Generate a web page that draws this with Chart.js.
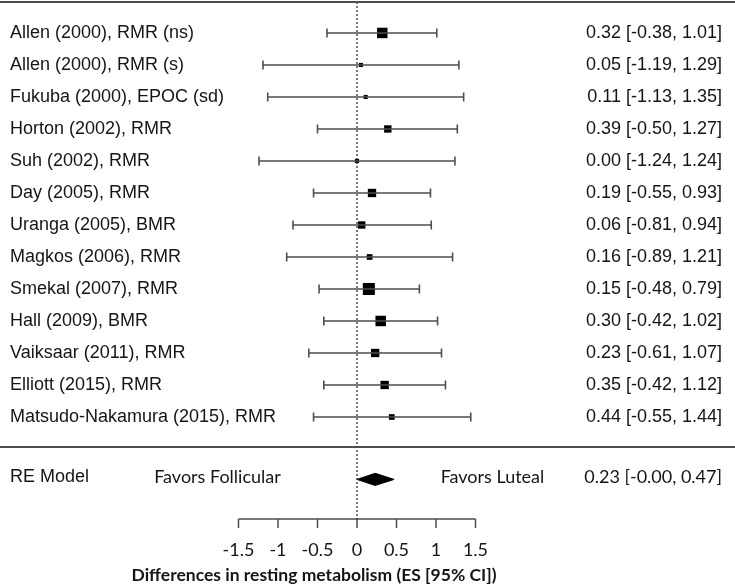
<!DOCTYPE html>
<html>
<head>
<meta charset="utf-8">
<script src="https://cdn.jsdelivr.net/npm/chart.js@4/dist/chart.umd.min.js"></script>
<style>
  html, body { margin: 0; padding: 0; background: #ffffff; }
  #wrap { width: 735px; height: 587px; }
</style>
</head>
<body>
<div id="wrap"><canvas id="c" width="735" height="587"></canvas></div>
<script>
// ---- Data ----
const studies = [
  "Allen (2000), RMR (ns)",
  "Allen (2000), RMR (s)",
  "Fukuba (2000), EPOC (sd)",
  "Horton (2002), RMR",
  "Suh (2002), RMR",
  "Day (2005), RMR",
  "Uranga (2005), BMR",
  "Magkos (2006), RMR",
  "Smekal (2007), RMR",
  "Hall (2009), BMR",
  "Vaiksaar (2011), RMR",
  "Elliott (2015), RMR",
  "Matsudo-Nakamura (2015), RMR"
];
const estimates = [0.32, 0.05, 0.11, 0.39, 0.00, 0.19, 0.06, 0.16, 0.15, 0.30, 0.23, 0.35, 0.44];
const ciLower   = [-0.38, -1.19, -1.13, -0.50, -1.24, -0.55, -0.81, -0.89, -0.48, -0.42, -0.61, -0.42, -0.55];
const ciUpper   = [1.01, 1.29, 1.35, 1.27, 1.24, 0.93, 0.94, 1.21, 0.79, 1.02, 1.07, 1.12, 1.44];
// estimated relative study weights (%), judged from square sizes
const weights   = [10.8, 4.3, 4.3, 7.6, 4.3, 8.6, 7.6, 5.9, 12.4, 10.8, 8.6, 8.6, 5.9];

const summaryLabel = "RE Model";
const summaryEstimate = 0.23;
const summaryLower = -0.00;
const summaryUpper = 0.47;

const tickValues = [-1.5, -1, -0.5, 0, 0.5, 1, 1.5];
const tickLabels = ["-1.5", "-1", "-0.5", "0", "0.5", "1", "1.5"];
const xTitle = "Differences in resting metabolism (ES [95% CI])";
const leftFavor = "Favors Follicular";
const rightFavor = "Favors Luteal";

// ---- Layout constants ----
const X_MIN = -4.519, X_MAX = 4.785;
const Y_MIN = -4.3125, Y_MAX = 14.03;
const TOP_ROW = 13.97;
const SEP_ROW = 0.06;
const SUM_ROW = -0.95;
const AXIS_ROW = -2.19;
const TICK_LEN = 0.28;
const TICKLABEL_ROW = -3.16;
const TITLE_ROW = -3.95;
const DIAMOND_H = 0.19;
const LINE_GREY = '#4d4d4d';
const TEXT = '#151515';

const fmt = v => (v < 0 || Object.is(v, -0) ? '-' : '') + Math.abs(v).toFixed(2);
const n = studies.length;
const rowOf = i => n - i;

const datasets = [];
// top rule
datasets.push({ data: [{x: X_MIN, y: TOP_ROW}, {x: X_MAX, y: TOP_ROW}], showLine: true,
  borderColor: LINE_GREY, borderWidth: 2, pointRadius: 0 });
// separator rule
datasets.push({ data: [{x: X_MIN, y: SEP_ROW}, {x: X_MAX, y: SEP_ROW}], showLine: true,
  borderColor: LINE_GREY, borderWidth: 2, pointRadius: 0 });
// dotted zero line
datasets.push({ data: [{x: 0, y: TOP_ROW}, {x: 0, y: AXIS_ROW}], showLine: true,
  borderColor: '#222222', borderWidth: 1.2, borderDash: [2, 2], pointRadius: 0 });
// CI lines with end caps
for (let i = 0; i < n; i++) {
  datasets.push({
    data: [{x: ciLower[i], y: rowOf(i)}, {x: ciUpper[i], y: rowOf(i)}],
    showLine: true, borderColor: LINE_GREY, borderWidth: 1.6,
    pointStyle: 'line', rotation: 90, pointRadius: 4.5,
    pointBorderColor: LINE_GREY, pointBorderWidth: 1.6, pointBackgroundColor: LINE_GREY
  });
}
// squares
datasets.push({
  data: estimates.map((v, i) => ({x: v, y: rowOf(i)})),
  showLine: false, pointStyle: 'rect',
  pointRadius: weights.map(w => (w * 0.97) / (2 * Math.SQRT1_2)),
  pointBackgroundColor: '#000000', pointBorderWidth: 0, pointBorderColor: '#000000'
});
// summary diamond
datasets.push({
  data: [
    {x: summaryLower, y: SUM_ROW},
    {x: summaryEstimate, y: SUM_ROW + DIAMOND_H},
    {x: summaryUpper, y: SUM_ROW},
    {x: summaryEstimate, y: SUM_ROW - DIAMOND_H},
    {x: summaryLower, y: SUM_ROW}
  ],
  showLine: true, fill: 'shape', backgroundColor: '#000000', borderColor: '#000000',
  borderWidth: 1, pointRadius: 0, tension: 0
});
// x axis line
datasets.push({ data: [{x: tickValues[0], y: AXIS_ROW}, {x: tickValues[tickValues.length - 1], y: AXIS_ROW}],
  showLine: true, borderColor: LINE_GREY, borderWidth: 1.5, pointRadius: 0 });
// ticks
tickValues.forEach(t => {
  datasets.push({ data: [{x: t, y: AXIS_ROW}, {x: t, y: AXIS_ROW - TICK_LEN}],
    showLine: true, borderColor: LINE_GREY, borderWidth: 1.5, pointRadius: 0 });
});

const textPlugin = {
  id: 'forestText',
  afterDraw(chart) {
    const ctx = chart.ctx;
    const xs = chart.scales.x, ys = chart.scales.y;
    ctx.save();
    ctx.fillStyle = TEXT;
    ctx.textBaseline = 'middle';
    // study labels and values
    ctx.font = '18px "Liberation Sans", Arial, sans-serif';
    for (let i = 0; i < n; i++) {
      const y = ys.getPixelForValue(rowOf(i));
      ctx.textAlign = 'left';
      ctx.fillText(studies[i], 10, y);
      ctx.textAlign = 'right';
      ctx.fillText(`${estimates[i].toFixed(2)} [${fmt(ciLower[i])}, ${fmt(ciUpper[i])}]`, 722, y);
    }
    // summary row
    const ySum = ys.getPixelForValue(SUM_ROW) - 2;
    ctx.textAlign = 'left';
    ctx.fillText(summaryLabel, 10, ySum);
    ctx.font = '18px Lato, "Open Sans", sans-serif';
    ctx.textAlign = 'right';
    ctx.fillText(`${summaryEstimate.toFixed(2)} [${fmt(summaryLower)}, ${fmt(summaryUpper)}]`, 722, ySum);
    ctx.textAlign = 'center';
    ctx.fillText(leftFavor, xs.getPixelForValue(-1.766), ySum);
    ctx.fillText(rightFavor, xs.getPixelForValue(1.715), ySum);
    // tick labels
    ctx.font = '18px Lato, "Open Sans", sans-serif';
    const yt = ys.getPixelForValue(TICKLABEL_ROW);
    tickValues.forEach((t, k) => ctx.fillText(tickLabels[k], xs.getPixelForValue(t), yt));
    // title
    ctx.font = 'bold 17.5px Lato, "Open Sans", sans-serif';
    ctx.fillText(xTitle, xs.getPixelForValue(-0.544), ys.getPixelForValue(TITLE_ROW));
    ctx.restore();
  }
};

new Chart(document.getElementById('c'), {
  type: 'scatter',
  data: { datasets },
  options: {
    responsive: false,
    animation: false,
    layout: { padding: 0, autoPadding: false },
    plugins: { legend: { display: false }, tooltip: { enabled: false } },
    elements: { line: { tension: 0 } },
    scales: {
      x: { type: 'linear', display: false, min: X_MIN, max: X_MAX },
      y: { type: 'linear', display: false, min: Y_MIN, max: Y_MAX }
    }
  },
  plugins: [textPlugin]
});
</script>
</body>
</html>
